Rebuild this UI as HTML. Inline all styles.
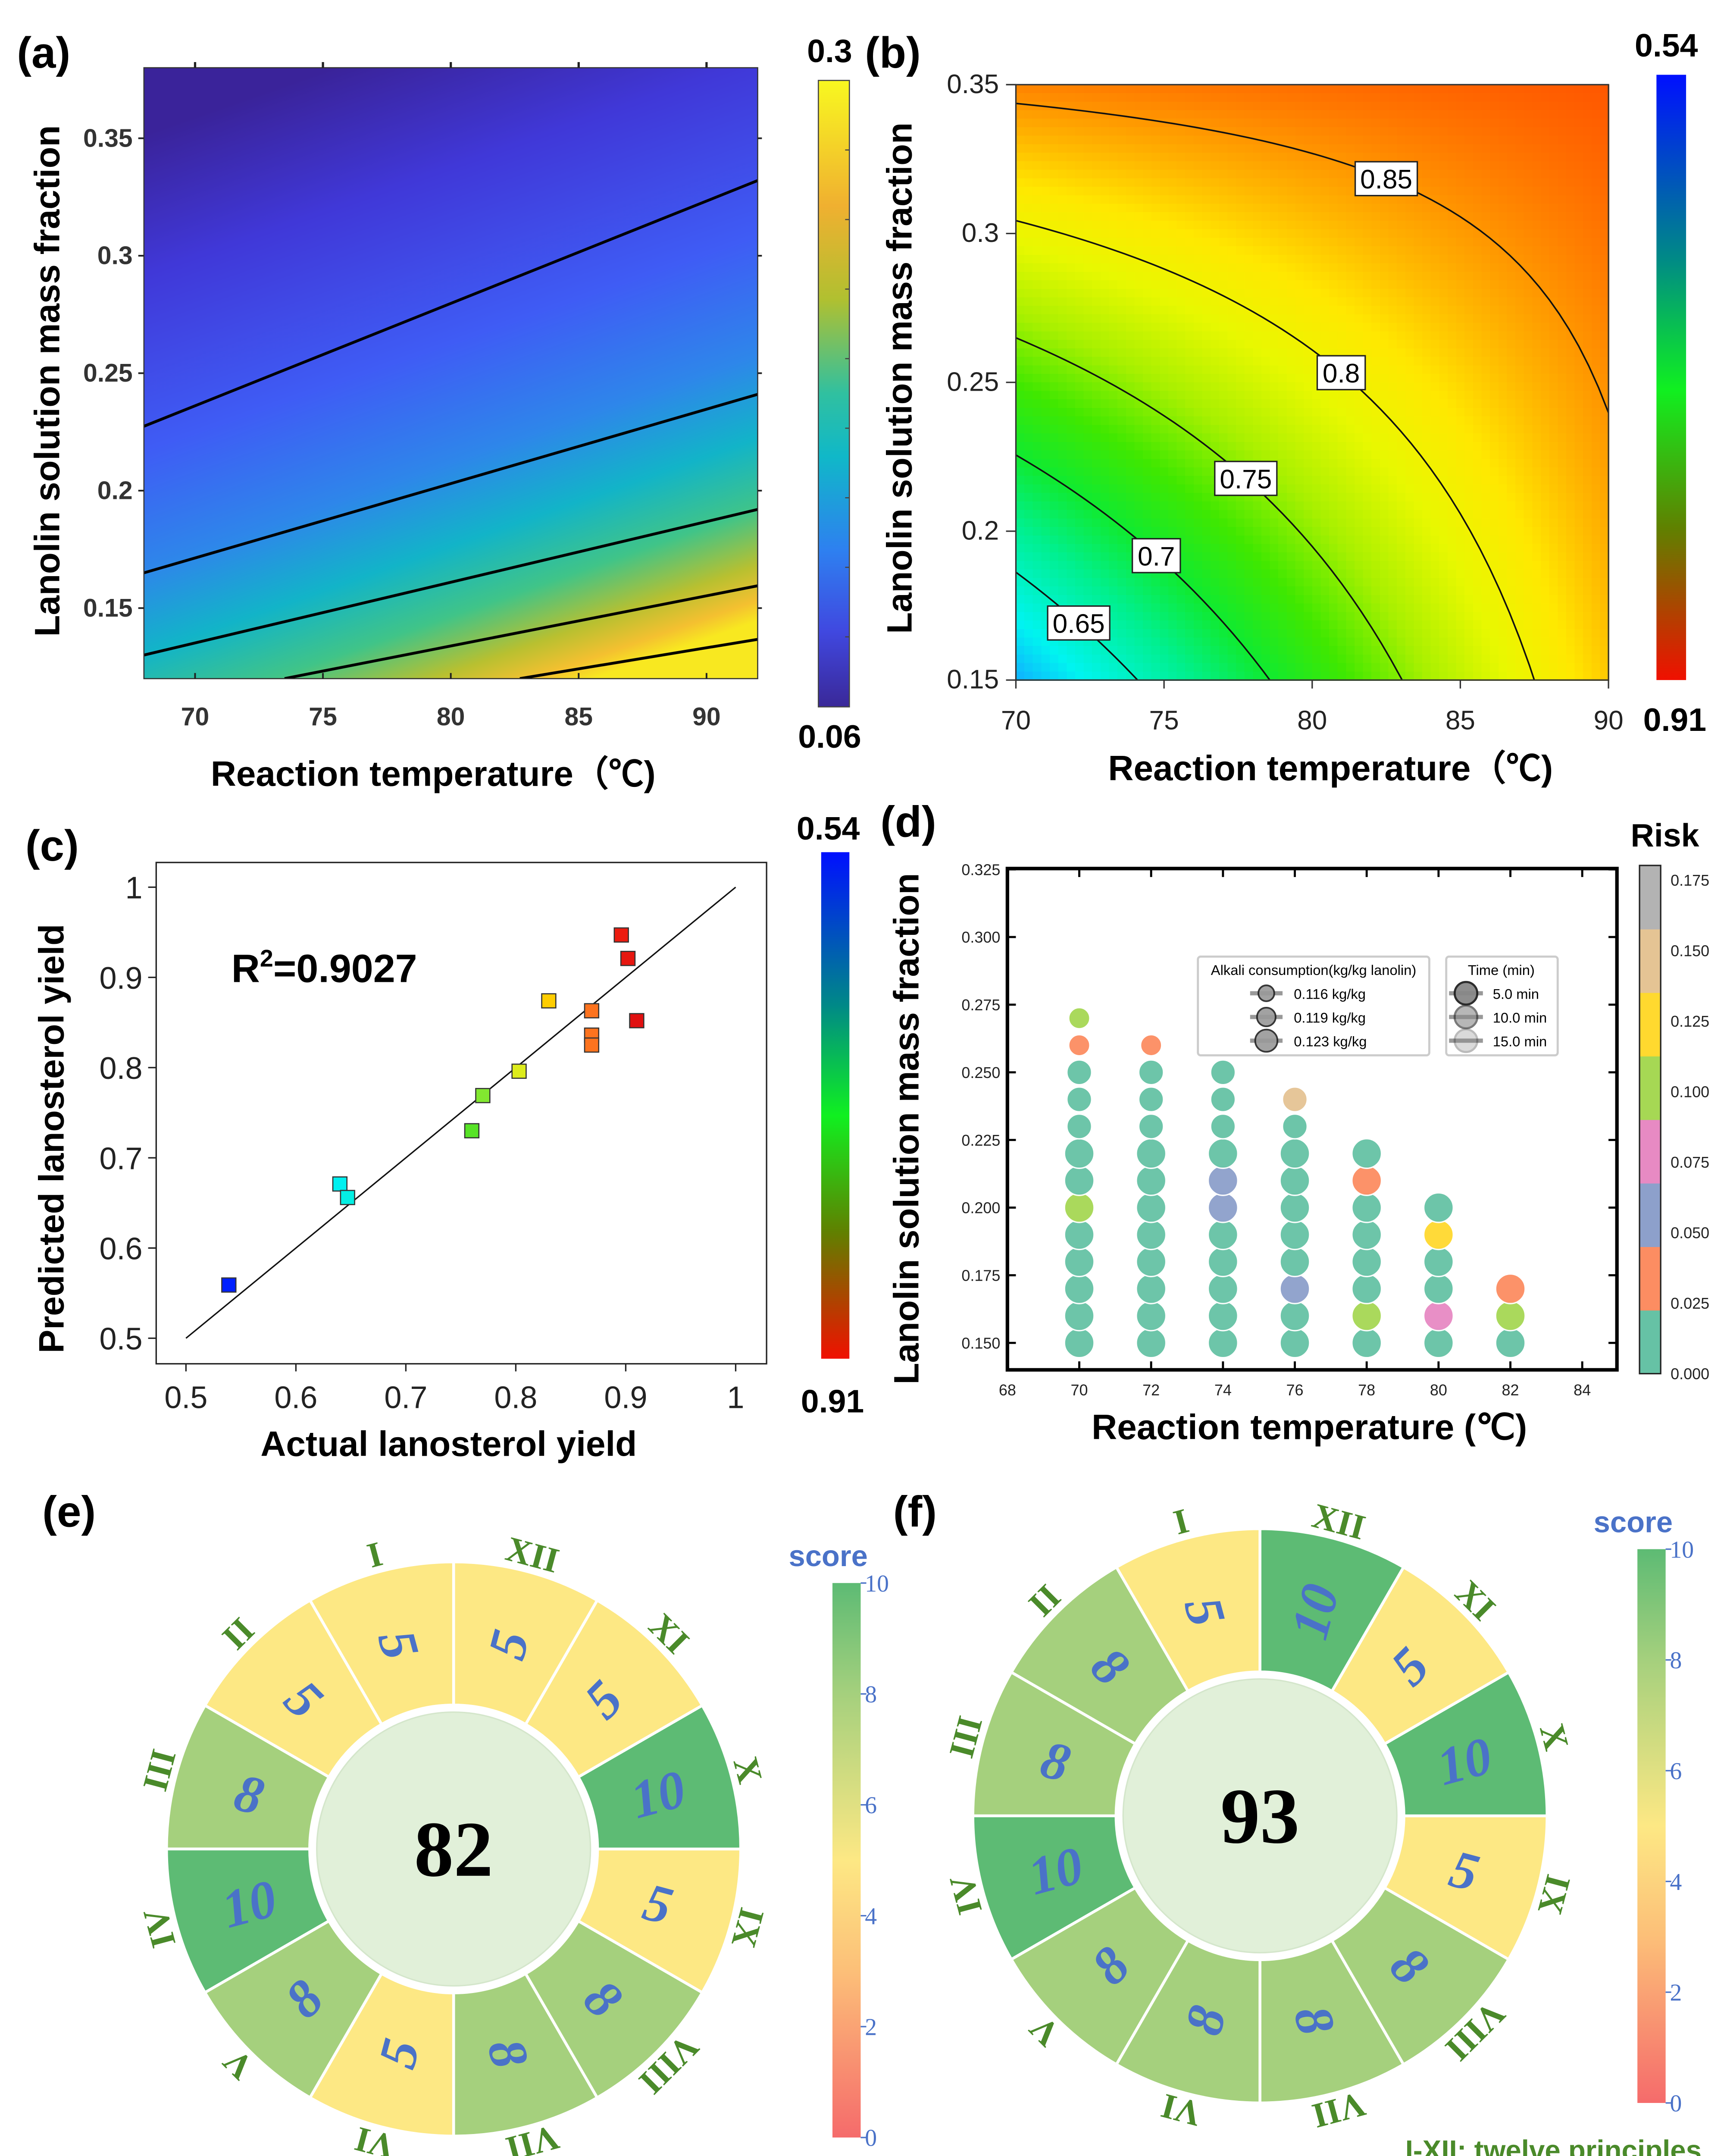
<!DOCTYPE html>
<html><head><meta charset="utf-8"><style>
html,body{margin:0;padding:0;background:#fff;width:4006px;height:5124px;overflow:hidden;}
svg{display:block;}
text{font-family:"Liberation Sans",Arial,sans-serif;}
.serif{font-family:"Liberation Serif","Times New Roman",serif;}
</style></head><body>
<svg id="fig" xmlns="http://www.w3.org/2000/svg" width="4006" height="5124" viewBox="0 0 1224 1566" preserveAspectRatio="none">
<defs>
 <linearGradient id="gA" gradientUnits="userSpaceOnUse" x1="260" y1="40" x2="415" y2="483">
  <stop offset="0" stop-color="#3a239a"/><stop offset="0.2" stop-color="#4038d8"/><stop offset="0.45" stop-color="#3f5cf5"/>
  <stop offset="0.62" stop-color="#2e86ea"/><stop offset="0.74" stop-color="#12b4c8"/><stop offset="0.84" stop-color="#40c488"/>
  <stop offset="0.92" stop-color="#b8c030"/><stop offset="0.97" stop-color="#f4c030"/><stop offset="1" stop-color="#f8e820"/>
 </linearGradient>
 <linearGradient id="cbA" x1="0" y1="0" x2="0" y2="1">
  <stop offset="0" stop-color="#f8f820"/><stop offset="0.2" stop-color="#f0b030"/><stop offset="0.35" stop-color="#b0c030"/>
  <stop offset="0.5" stop-color="#30c0a0"/><stop offset="0.6" stop-color="#10b8c8"/><stop offset="0.75" stop-color="#2e80f0"/>
  <stop offset="0.88" stop-color="#4048e0"/><stop offset="1" stop-color="#3a2898"/>
 </linearGradient>
 <linearGradient id="cbB" x1="0" y1="0" x2="0" y2="1">
  <stop offset="0" stop-color="#0010ff"/><stop offset="0.3" stop-color="#008888"/><stop offset="0.52" stop-color="#10f020"/>
  <stop offset="0.75" stop-color="#608000"/><stop offset="1" stop-color="#f01000"/>
 </linearGradient>
 <linearGradient id="cbS" x1="0" y1="0" x2="0" y2="1">
  <stop offset="0" stop-color="#5dbb74"/><stop offset="0.2" stop-color="#a5d07d"/><stop offset="0.5" stop-color="#fde884"/>
  <stop offset="0.7" stop-color="#fcbf78"/><stop offset="1" stop-color="#f56b6b"/>
 </linearGradient>
 <clipPath id="clipA"><rect x="102" y="48" width="435" height="433"/></clipPath>
 <clipPath id="clipB"><rect x="720" y="60" width="420" height="422"/></clipPath>
</defs>
<g id="root"></g>
</svg>
<script>
// ---------- DATA ----------
const aContours = [[68,0.2274,92,0.332],[68,0.165,92,0.241],[68,0.130,92,0.192],[73.5,0.12,92,0.1595],[82.7,0.12,92,0.1367]];
const aXTicks = [70,75,80,85,90];
const aYTicks = [0.15,0.2,0.25,0.3,0.35];
const aYTickLabels = ["0.15","0.2","0.25","0.3","0.35"];
// (b) response surface coefficients (normalized u=temp, w=fraction): v = c0 + cu*u + cw*w + cuw*u*w
const bCoef = [0.604,0.224,0.254,-0.205];
const bLevels = [0.85,0.8,0.75,0.7,0.65];
const bLevelLabels = ["0.85","0.8","0.75","0.7","0.65"];
const bLabelX = [82.5,80.98,77.76,74.74,72.12];
const bColorVals = [0.604,0.63,0.67,0.70,0.73,0.76,0.79,0.815,0.835,0.855,0.88];
const bColors = ["#10b0ff","#00f4f0","#00f090","#10ea30","#40e800","#a8f000","#e8f800","#ffe800","#ffb800","#ff8a00","#ff5000"];
const bXTicks = [70,75,80,85,90];
const bYTicks = [0.15,0.2,0.25,0.3,0.35];
const bYTickLabels = ["0.15","0.2","0.25","0.3","0.35"];
// (c)
const cActual = [0.539,0.640,0.647,0.760,0.770,0.803,0.830,0.869,0.869,0.869,0.896,0.902,0.910];
const cPredicted = [0.559,0.671,0.656,0.730,0.769,0.796,0.874,0.863,0.836,0.825,0.947,0.921,0.852];
const cTicks = [0.5,0.6,0.7,0.8,0.9,1];
const cTickLabels = ["0.5","0.6","0.7","0.8","0.9","1"];
// (d)
const dTemp = [70,70,70,70,70,70,70,70,70,70,70,70,70, 72,72,72,72,72,72,72,72,72,72,72,72, 74,74,74,74,74,74,74,74,74,74,74, 76,76,76,76,76,76,76,76,76,76, 78,78,78,78,78,78,78,78, 80,80,80,80,80,80, 82,82,82];
const dFrac = [0.15,0.16,0.17,0.18,0.19,0.20,0.21,0.22,0.23,0.24,0.25,0.26,0.27, 0.15,0.16,0.17,0.18,0.19,0.20,0.21,0.22,0.23,0.24,0.25,0.26, 0.15,0.16,0.17,0.18,0.19,0.20,0.21,0.22,0.23,0.24,0.25, 0.15,0.16,0.17,0.18,0.19,0.20,0.21,0.22,0.23,0.24, 0.15,0.16,0.17,0.18,0.19,0.20,0.21,0.22, 0.15,0.16,0.17,0.18,0.19,0.20, 0.15,0.16,0.17];
const dRisk = [0.01,0.01,0.015,0.02,0.012,0.10,0.01,0.01,0.01,0.01,0.01,0.03,0.11, 0.01,0.015,0.015,0.01,0.01,0.01,0.01,0.01,0.01,0.01,0.01,0.03, 0.01,0.01,0.01,0.01,0.015,0.06,0.06,0.01,0.01,0.01,0.01, 0.01,0.01,0.06,0.01,0.01,0.01,0.01,0.01,0.01,0.16, 0.01,0.11,0.01,0.01,0.01,0.01,0.03,0.01, 0.01,0.08,0.01,0.01,0.13,0.01, 0.01,0.11,0.03];
const dAlkali = [0.123,0.123,0.123,0.123,0.123,0.123,0.123,0.123,0.119,0.119,0.119,0.116,0.116, 0.123,0.123,0.123,0.123,0.123,0.123,0.123,0.123,0.119,0.119,0.119,0.116, 0.123,0.123,0.123,0.123,0.123,0.123,0.123,0.123,0.119,0.119,0.119, 0.123,0.123,0.123,0.123,0.123,0.123,0.123,0.123,0.119,0.119, 0.123,0.123,0.123,0.123,0.123,0.123,0.123,0.123, 0.123,0.123,0.123,0.123,0.123,0.123, 0.123,0.123,0.123];
const dXTicks = [68,70,72,74,76,78,80,82,84];
const dYTicks = [0.150,0.175,0.200,0.225,0.250,0.275,0.300,0.325];
const dRiskTickLabels = ["0.175","0.150","0.125","0.100","0.075","0.050","0.025","0.000"];
const dRiskColors = ["#66c2a5","#fc8d62","#8da0cb","#e78ac3","#a6d854","#ffd92f","#e5c494","#b3b3b3"];
const dAlkaliLegend = ["0.116 kg/kg","0.119 kg/kg","0.123 kg/kg"];
const dAlkaliLegendVal = [0.116,0.119,0.123];
const dTimeLegend = ["5.0 min","10.0 min","15.0 min"];
// (e),(f)
const romans = ["I","II","III","IV","V","VI","VII","VIII","IX","X","XI","XII"];
const eScores = [5,5,8,10,8,5,8,8,5,10,5,5];
const fScores = [5,8,8,10,8,8,8,8,5,10,5,10];
const scoreTicks = [10,8,6,4,2,0];

// ---------- HELPERS ----------
const NS="http://www.w3.org/2000/svg";
const root=document.getElementById('root');
function mk(tag,attrs,parent,txt){const e=document.createElementNS(NS,tag);for(const k in attrs)e.setAttribute(k,attrs[k]);if(txt!==undefined)e.textContent=txt;(parent||root).appendChild(e);return e;}
function lin(d0,d1,r0,r1){return v=>r0+(v-d0)/(d1-d0)*(r1-r0);}
function hex2rgb(h){return [parseInt(h.substr(1,2),16),parseInt(h.substr(3,2),16),parseInt(h.substr(5,2),16)];}
function interp(stops,t){t=Math.max(stops[0][0],Math.min(stops[stops.length-1][0],t));for(let i=1;i<stops.length;i++){if(t<=stops[i][0]){const a=stops[i-1],b=stops[i];const u=(t-a[0])/(b[0]-a[0]);const ca=hex2rgb(a[1]),cb=hex2rgb(b[1]);return 'rgb('+ca.map((c,j)=>Math.round(c+(cb[j]-c)*u)).join(',')+')';}}return stops[stops.length-1][1];}

[["(a)",12,48],["(b)",613,48],["(c)",18,610],["(d)",624,593],["(e)",30,1082],["(f)",633,1082]].forEach(p=>{
 const t=mk('text',{x:p[1],y:p[2],'font-size':31,'font-weight':'bold'},root,p[0]);
 
 
});

// ---------- PANEL A ----------
(function(){
 const g=mk('g',{});
 
 
 const X=lin(68,92,102,537), Y=lin(0.35,0.15,98,431);
 const bg=mk('rect',{x:102,y:48,width:435,height:433,fill:'url(#gA)'},g);
 
 
 const cg=mk('g',{'clip-path':'url(#clipA)'},g);
 aContours.forEach((c,i)=>{
  const l=mk('line',{x1:X(c[0]),y1:Y(c[1]),x2:X(c[2]),y2:Y(c[3]),stroke:'#000','stroke-width':2},cg);
  
  
 });
 const fr=mk('rect',{x:102,y:48,width:435,height:433,fill:'none',stroke:'#333','stroke-width':0.8},g);
 
 
 aXTicks.forEach(v=>{
  mk('line',{x1:X(v),x2:X(v),y1:481,y2:477,stroke:'#222','stroke-width':1.2},g);
  mk('line',{x1:X(v),x2:X(v),y1:48,y2:44,stroke:'#222','stroke-width':1.6},g);
  const t=mk('text',{x:X(v),y:514,'font-size':18,'font-weight':'bold','text-anchor':'middle',fill:'#333'},g,String(v));
  
  
 });
 aYTicks.forEach((v,i)=>{
  mk('line',{x1:102,x2:98,y1:Y(v),y2:Y(v),stroke:'#222','stroke-width':1.2},g);
  mk('line',{x1:537,x2:540,y1:Y(v),y2:Y(v),stroke:'#222','stroke-width':1.2},g);
  const t=mk('text',{x:94,y:Y(v)+6,'font-size':18,'font-weight':'bold','text-anchor':'end',fill:'#333'},g,aYTickLabels[i]);
  
  
 });
 const xt=mk('text',{x:307,y:557,'font-size':25,'font-weight':'bold','text-anchor':'middle'},g,'Reaction temperature（℃)');
 
 
 const yt=mk('text',{x:0,y:0,'font-size':25,'font-weight':'bold','text-anchor':'middle',transform:'translate(42,270) rotate(-90)'},g,'Lanolin solution mass fraction');
 
 
 const cb=mk('rect',{x:580,y:57,width:22,height:444,fill:'url(#cbA)',stroke:'#444','stroke-width':0.8},g);
 
 
 for(let i=1;i<9;i++) mk('line',{x1:599,x2:602,y1:57+i*49.3,y2:57+i*49.3,stroke:'#444','stroke-width':0.8},g);
 const t1=mk('text',{x:588,y:44,'font-size':23,'font-weight':'bold','text-anchor':'middle'},g,'0.3');
 
 
 const t2=mk('text',{x:588,y:530,'font-size':23,'font-weight':'bold','text-anchor':'middle'},g,'0.06');
 
 
})();

// ---------- PANEL B ----------
(function(){
 const g=mk('g',{});
 
 
 const X=lin(70,90,720,1140), Y=lin(0.15,0.35,482,60);
 const field=(u,w)=>bCoef[0]+bCoef[1]*u+bCoef[2]*w+bCoef[3]*u*w;
 const stops=bColorVals.map((v,i)=>[v,bColors[i]]);
 const hm=mk('g',{'shape-rendering':'crispEdges'},g);
 
 
 const N=70, cw=420/N, ch=422/N;
 for(let i=0;i<N;i++)for(let j=0;j<N;j++){
  const u=(i+0.5)/N, w=1-(j+0.5)/N;
  const r=mk('rect',{x:(720+i*cw).toFixed(2),y:(60+j*ch).toFixed(2),width:(cw+0.6).toFixed(2),height:(ch+0.6).toFixed(2),fill:interp(stops,field(u,w))},hm);
  
  
 }
 const cg=mk('g',{'clip-path':'url(#clipB)'},g);
 bLevels.forEach((L,i)=>{
  let d='';
  for(let k=0;k<=60;k++){const u=k/60;const w=(L-bCoef[0]-bCoef[1]*u)/(bCoef[2]+bCoef[3]*u);
   const px=X(70+20*u), py=Y(0.15+0.2*w);
   d+=(d?'L':'M')+px.toFixed(2)+','+Math.max(-50,Math.min(600,py)).toFixed(2);}
  const p=mk('path',{d:d,fill:'none',stroke:'#111','stroke-width':1.1},cg);
  
  
  const u=(bLabelX[i]-70)/20, w=(L-bCoef[0]-bCoef[1]*u)/(bCoef[2]+bCoef[3]*u);
  const lx=X(bLabelX[i]), ly=Y(0.15+0.2*w);
  const bw=bLevelLabels[i].length>3?44:34;
  const r=mk('rect',{x:lx-bw/2,y:ly-12,width:bw,height:24,fill:'#fff',stroke:'#222','stroke-width':1},g);
  
  
  const t=mk('text',{x:lx,y:ly+7,'font-size':19,'text-anchor':'middle'},g,bLevelLabels[i]);
  
  
 });
 const fr=mk('rect',{x:720,y:60,width:420,height:422,fill:'none',stroke:'#333','stroke-width':1},g);
 
 
 bXTicks.forEach(v=>{
  mk('line',{x1:X(v),x2:X(v),y1:482,y2:488,stroke:'#333','stroke-width':1},g);
  const t=mk('text',{x:X(v),y:517,'font-size':19,'text-anchor':'middle',fill:'#222'},g,String(v));
  
  
 });
 bYTicks.forEach((v,i)=>{
  mk('line',{x1:720,x2:713,y1:Y(v),y2:Y(v),stroke:'#333','stroke-width':1},g);
  const t=mk('text',{x:708,y:Y(v)+6,'font-size':19,'text-anchor':'end',fill:'#222'},g,bYTickLabels[i]);
  
  
 });
 const xt=mk('text',{x:943,y:553,'font-size':25,'font-weight':'bold','text-anchor':'middle'},g,'Reaction temperature（℃)');
 
 
 const yt=mk('text',{x:0,y:0,'font-size':25,'font-weight':'bold','text-anchor':'middle',transform:'translate(646,268) rotate(-90)'},g,'Lanolin solution mass fraction');
 
 
 const cb=mk('rect',{x:1174,y:53,width:21,height:429,fill:'url(#cbB)'},g);
 
 
 const t1=mk('text',{x:1181,y:40,'font-size':23,'font-weight':'bold','text-anchor':'middle'},g,'0.54');
 
 
 const t2=mk('text',{x:1187,y:518,'font-size':23,'font-weight':'bold','text-anchor':'middle'},g,'0.91');
 
 
})();

// ---------- PANEL C ----------
(function(){
 const g=mk('g',{});
 
 
 const X=lin(0.5,1,131.8,521.4), Y=lin(0.5,1,948.5,628.8);
 const fr=mk('rect',{x:110.7,y:611.3,width:432.6,height:355.3,fill:'#fff',stroke:'#222','stroke-width':1},g);
 
 
 const l=mk('line',{x1:X(0.5),y1:Y(0.5),x2:X(1),y2:Y(1),stroke:'#111','stroke-width':1},g);
 
 
 const stops=[[0,'#0020ff'],[0.27,'#00f0f0'],[0.58,'#40e020'],[0.62,'#80e830'],[0.70,'#d8f020'],[0.78,'#ffd000'],[0.88,'#ff8020'],[0.95,'#f02010'],[1,'#e01010']];
 cActual.forEach((a,i)=>{
  const r=mk('rect',{x:X(a)-5,y:Y(cPredicted[i])-5,width:10,height:10,fill:interp(stops,(a-0.54)/0.37),stroke:'#333','stroke-width':0.8},g);
  
  
 });
 cTicks.forEach((v,i)=>{
  mk('line',{x1:X(v),x2:X(v),y1:966.6,y2:972,stroke:'#222','stroke-width':1},g);
  const t=mk('text',{x:X(v),y:998,'font-size':22,'text-anchor':'middle',fill:'#222'},g,cTickLabels[i]);
  
  
  mk('line',{x1:110.7,x2:105,y1:Y(v),y2:Y(v),stroke:'#222','stroke-width':1},g);
  const t2=mk('text',{x:101,y:Y(v)+8,'font-size':22,'text-anchor':'end',fill:'#222'},g,cTickLabels[i]);
  
  
 });
 const r2=mk('text',{x:164,y:696,'font-size':28,'font-weight':'bold'},g);
 
 
 r2.innerHTML='R<tspan dy="-11" font-size="17">2</tspan><tspan dy="11">=0.9027</tspan>';
 const xt=mk('text',{x:318,y:1032,'font-size':25,'font-weight':'bold','text-anchor':'middle'},g,'Actual lanosterol yield');
 
 
 const yt=mk('text',{x:0,y:0,'font-size':25,'font-weight':'bold','text-anchor':'middle',transform:'translate(45,807) rotate(-90)'},g,'Predicted lanosterol yield');
 
 
 const cb=mk('rect',{x:582,y:604,width:20,height:359,fill:'url(#cbB)'},g);
 
 
 const t1=mk('text',{x:587,y:595,'font-size':23,'font-weight':'bold','text-anchor':'middle'},g,'0.54');
 
 
 const t2=mk('text',{x:590,y:1001,'font-size':23,'font-weight':'bold','text-anchor':'middle'},g,'0.91');
 
 
})();

// ---------- PANEL D ----------
(function(){
 const g=mk('g',{});
 
 
 const X=lin(68,84,714,1121.4), Y=lin(0.150,0.325,951.8,616.2);
 const L=714,R=1146,T=615.6,B=970.9;
 const R_=a=>7.5+(a-0.116)/0.007*3;
 const riskColor=r=>dRiskColors[Math.min(7,Math.floor(r/0.025))];
 dTemp.forEach((t,i)=>{
  const c=mk('circle',{cx:X(t),cy:Y(dFrac[i]),r:R_(dAlkali[i]),fill:riskColor(dRisk[i]),stroke:'#fff','stroke-width':1,opacity:0.95},g);
  
  
 });
 const fr=mk('rect',{x:L,y:T,width:R-L,height:B-T,fill:'none',stroke:'#000','stroke-width':2.5},g);
 
 
 dXTicks.forEach(v=>{
  mk('line',{x1:X(v),x2:X(v),y1:B,y2:B-6,stroke:'#000','stroke-width':1.5},g);
  mk('line',{x1:X(v),x2:X(v),y1:T,y2:T+6,stroke:'#000','stroke-width':1.5},g);
  const t=mk('text',{x:X(v),y:989,'font-size':11,'text-anchor':'middle',fill:'#222'},g,String(v));
  
  
 });
 dYTicks.forEach(v=>{
  mk('line',{x1:L,x2:L+6,y1:Y(v),y2:Y(v),stroke:'#000','stroke-width':1.5},g);
  mk('line',{x1:R,x2:R-6,y1:Y(v),y2:Y(v),stroke:'#000','stroke-width':1.5},g);
  const t=mk('text',{x:709,y:Y(v)+4,'font-size':11,'text-anchor':'end',fill:'#222'},g,v.toFixed(3));
  
  
 });
 const lg1=mk('rect',{x:849,y:678,width:164,height:70,fill:'#fff',stroke:'#ccc','stroke-width':1.5,rx:2},g);
 
 
 const lt1=mk('text',{x:931,y:691,'font-size':10,'text-anchor':'middle'},g,'Alkali consumption(kg/kg lanolin)');
 
 
 dAlkaliLegend.forEach((s,i)=>{
  const yy=704+i*16.8;
  mk('line',{x1:886,x2:909,y1:yy,y2:yy,stroke:'#999','stroke-width':3},g);
  const c=mk('circle',{cx:897.5,cy:yy,r:R_(dAlkaliLegendVal[i])*0.75,fill:'#999',stroke:'#222','stroke-width':1.2,opacity:0.9},g);
  
  
  const t=mk('text',{x:917,y:yy+4,'font-size':10},g,s);
  
  
 });
 const lg2=mk('rect',{x:1025,y:678,width:79,height:70,fill:'#fff',stroke:'#ccc','stroke-width':1.5,rx:2},g);
 
 
 const lt2=mk('text',{x:1064,y:691,'font-size':10,'text-anchor':'middle'},g,'Time (min)');
 
 
 dTimeLegend.forEach((s,i)=>{
  const yy=704+i*16.8;
  mk('line',{x1:1027,x2:1051,y1:yy,y2:yy,stroke:'#999','stroke-width':3},g);
  const c=mk('circle',{cx:1039,cy:yy,r:8,fill:'#888',stroke:'#222','stroke-width':1.5,opacity:[0.95,0.6,0.3][i]},g);
  
  
  const t=mk('text',{x:1058,y:yy+4,'font-size':10},g,s);
  
  
 });
 const cbT=613.4,cbB=973.6,bh=(cbB-cbT)/8;
 dRiskColors.forEach((col,i)=>{
  const r=mk('rect',{x:1162,y:cbB-(i+1)*bh,width:15,height:bh+0.3,fill:col},g);
  
  
 });
 mk('rect',{x:1162,y:cbT,width:15,height:cbB-cbT,fill:'none',stroke:'#222','stroke-width':1},g);
 dRiskTickLabels.forEach((s,i)=>{
  const t=mk('text',{x:1184,y:623.8+i*(973.6-623.8)/7+4,'font-size':11,fill:'#222'},g,s);
  
  
 });
 const rk=mk('text',{x:1180,y:600,'font-size':23,'font-weight':'bold','text-anchor':'middle'},g,'Risk');
 
 
 const xt=mk('text',{x:928,y:1020,'font-size':25,'font-weight':'bold','text-anchor':'middle'},g,'Reaction temperature (℃)');
 
 
 const yt=mk('text',{x:0,y:0,'font-size':25,'font-weight':'bold','text-anchor':'middle',transform:'translate(651,800) rotate(-90)'},g,'Lanolin solution mass fraction');
 
 
})();

// ---------- PANELS E, F ----------
const scoreStops=[[0,'#f56b6b'],[0.3,'#fcbf78'],[0.5,'#fde884'],[0.8,'#a5d07d'],[1,'#5dbb74']];
function donut(name,cx,cy,scores,cbX,cbY0,cbY1,caption,capX,capY){
 const g=mk('g',{});
 
 
 const ro=203.5, ri=102, rc=97;
 const total=scores.reduce((a,b)=>a+b,0);
 const P=(r,deg)=>{const a=deg*Math.PI/180;return [cx+r*Math.sin(a),cy-r*Math.cos(a)];};
 scores.forEach((s,k)=>{
  const a0=-30*(k+1), a1=-30*k;
  const p1=P(ro,a0),p2=P(ro,a1),p3=P(ri,a1),p4=P(ri,a0);
  const d=`M${p1}A${ro},${ro} 0 0 1 ${p2}L${p3}A${ri},${ri} 0 0 0 ${p4}Z`;
  const sec=mk('path',{d:d,fill:interp(scoreStops,s/10),stroke:'#fff','stroke-width':2},g);
  
  
  let mid=(a0+a1)/2; let m=((mid%360)+360)%360;
  const pn=P(150,mid);
  const rot = m<180 ? m-90 : m+90;
  const t=mk('text',{x:pn[0],y:pn[1],'font-size':38,'font-weight':'bold','font-style':'italic','text-anchor':'middle','dominant-baseline':'central',fill:'#4a72c8',class:'serif',transform:`rotate(${rot},${pn[0]},${pn[1]})`},g,String(s));
  
  
  const pr=P(216,mid);
  const tr=mk('text',{x:pr[0],y:pr[1],'font-size':25,'font-weight':'bold','text-anchor':'middle','dominant-baseline':'central',fill:'#4a8a2a',class:'serif',transform:`rotate(${m},${pr[0]},${pr[1]})`},g,romans[k]);
  
  
 });
 const c=mk('circle',{cx:cx,cy:cy,r:rc,fill:'#e1f0d9',stroke:'#d4e6cb','stroke-width':1},g);
 
 
 const tt=mk('text',{x:cx,y:cy+19,'font-size':56,'font-weight':'bold','text-anchor':'middle',class:'serif'},g,String(total));
 
 
 const cb=mk('rect',{x:cbX,y:cbY0,width:20,height:cbY1-cbY0,fill:'url(#cbS)'},g);
 
 
 scoreTicks.forEach(v=>{
  const yy=cbY1-(cbY1-cbY0)*v/10;
  mk('line',{x1:cbX+20,x2:cbX+24,y1:yy,y2:yy,stroke:'#4a72c8','stroke-width':1},g);
  const t=mk('text',{x:cbX+23,y:yy+6,'font-size':17,fill:'#4a72c8',class:'serif'},g,String(v));
  
  
 });
 const st=mk('text',{x:cbX-3,y:cbY0-12,'font-size':21,'font-weight':'bold','text-anchor':'middle',fill:'#4a72c8'},g,'score');
 
 
 const cap=mk('text',{x:capX,y:capY,'font-size':20,'font-weight':'bold','text-anchor':'end',fill:'#4a8a2a'},g,caption);
 
 
}
donut('panel-e-donut',321.5,1310.5,eScores,590,1122,1515,'I-XII: Twelve principles',660,1552);
donut('panel-f-donut',893,1287,fScores,1160.5,1098,1490.5,'I-XII: twelve principles',1206,1531);
</script>
</body></html>
